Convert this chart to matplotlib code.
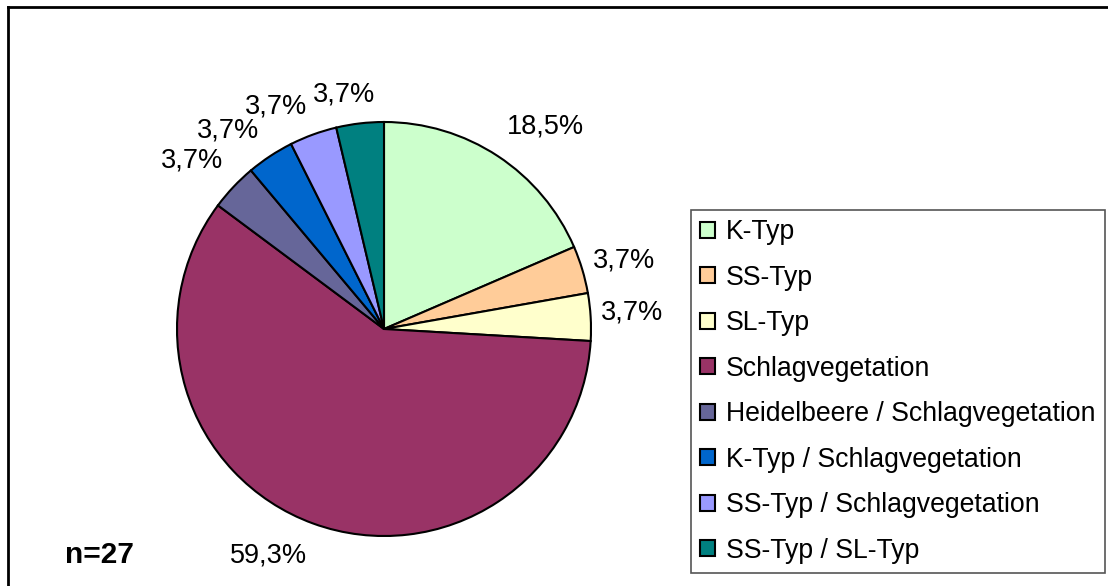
import matplotlib
matplotlib.use('Agg')
import matplotlib.pyplot as plt
from matplotlib.patches import Patch
from matplotlib.lines import Line2D

plt.rcParams['font.family'] = ['Liberation Sans', 'DejaVu Sans']

# data (counts, n=27)
categories = ["K-Typ", "SS-Typ", "SL-Typ", "Schlagvegetation",
              "Heidelbeere / Schlagvegetation", "K-Typ / Schlagvegetation",
              "SS-Typ / Schlagvegetation", "SS-Typ / SL-Typ"]
counts = [5, 1, 1, 16, 1, 1, 1, 1]
colors = ["#CCFFCC", "#FFCC99", "#FFFFCC", "#993366",
          "#666699", "#0066CC", "#9999FF", "#008080"]
n_label = "n=27"

# where Excel put the percentage labels (in pie-radius units)
label_pos = [(0.778, 0.976), (1.159, 0.329), (1.198, 0.082), (-0.560, -1.092),
             (-0.928, 0.812), (-0.754, 0.961), (-0.522, 1.077), (-0.193, 1.135)]

W, H = 1108, 586
fig = plt.figure(figsize=(W / 100, H / 100), dpi=100)

# pie axes: centre (384, 329) px, radius 207 px
cx, cy, r = 384, 329, 207
ax = fig.add_axes([(cx - r) / W, (H - cy - r) / H, 2 * r / W, 2 * r / H])

def fmt(p):
    return ("%.1f%%" % p).replace('.', ',')

wedges, texts, autotexts = ax.pie(
    counts, colors=colors, startangle=90, counterclock=False,
    autopct=fmt, pctdistance=1.21,
    wedgeprops=dict(edgecolor='black', linewidth=1.5),
    textprops=dict(fontsize=19.5))
for t, p in zip(autotexts, label_pos):
    t.set_position(p)
ax.set_xlim(-1, 1)
ax.set_ylim(-1, 1)
ax.axis('off')

# legend
handles = [Patch(facecolor=c, edgecolor='black', linewidth=1.5) for c in colors]
leg = fig.legend(handles, categories, loc='upper left',
                 bbox_to_anchor=(691 / W, 1 - 210 / H), borderaxespad=0,
                 fontsize=19.2, fancybox=False, framealpha=1,
                 edgecolor='#555555', handlelength=0.55, handleheight=0.55,
                 handletextpad=0.4, labelspacing=0.73, borderpad=0.35)
leg.get_frame().set_linewidth(1.2)

fig.text(65 / W, 1 - 555 / H, n_label, fontsize=21.5, fontweight='bold', va='center')

# outer chart frame (only top and left visible)
fig.add_artist(Line2D([8 / W, 1.0], [1 - 7 / H, 1 - 7 / H], color='black', linewidth=2))
fig.add_artist(Line2D([8 / W, 8 / W], [0.0, 1 - 7 / H], color='black', linewidth=2))

fig.savefig('out.png', dpi=100)
